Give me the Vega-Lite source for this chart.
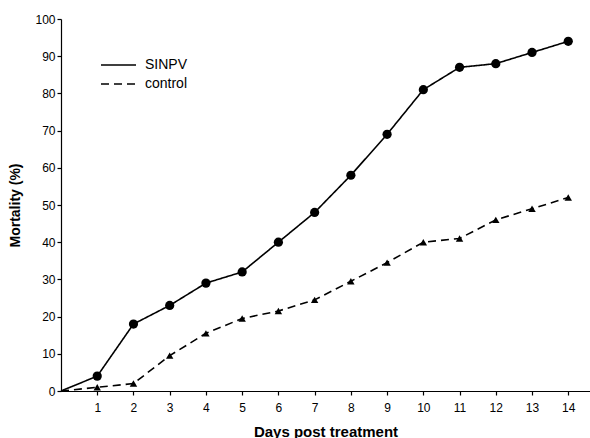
{
  "$schema": "https://vega.github.io/schema/vega-lite/v6.json",
  "width": 529,
  "height": 372,
  "autosize": {"type": "none"},
  "padding": {"left": 61, "top": 19, "right": 0, "bottom": 47},
  "background": "white",
  "config": {
    "view": {"stroke": null},
    "font": "Liberation Sans",
    "axis": {"grid": false, "domainColor": "black", "tickColor": "black", "labelColor": "black", "titleColor": "black", "domainWidth": 1.2, "tickWidth": 1.2}
  },
  "data": {
    "values": [
      {"day": 0, "series": "SINPV", "mortality": 0},
      {"day": 1, "series": "SINPV", "mortality": 4},
      {"day": 2, "series": "SINPV", "mortality": 18},
      {"day": 3, "series": "SINPV", "mortality": 23},
      {"day": 4, "series": "SINPV", "mortality": 29},
      {"day": 5, "series": "SINPV", "mortality": 32},
      {"day": 6, "series": "SINPV", "mortality": 40},
      {"day": 7, "series": "SINPV", "mortality": 48},
      {"day": 8, "series": "SINPV", "mortality": 58},
      {"day": 9, "series": "SINPV", "mortality": 69},
      {"day": 10, "series": "SINPV", "mortality": 81},
      {"day": 11, "series": "SINPV", "mortality": 87},
      {"day": 12, "series": "SINPV", "mortality": 88},
      {"day": 13, "series": "SINPV", "mortality": 91},
      {"day": 14, "series": "SINPV", "mortality": 94},
      {"day": 0, "series": "control", "mortality": 0},
      {"day": 1, "series": "control", "mortality": 1},
      {"day": 2, "series": "control", "mortality": 2},
      {"day": 3, "series": "control", "mortality": 9.5},
      {"day": 4, "series": "control", "mortality": 15.5},
      {"day": 5, "series": "control", "mortality": 19.5},
      {"day": 6, "series": "control", "mortality": 21.5},
      {"day": 7, "series": "control", "mortality": 24.5},
      {"day": 8, "series": "control", "mortality": 29.5},
      {"day": 9, "series": "control", "mortality": 34.5},
      {"day": 10, "series": "control", "mortality": 40},
      {"day": 11, "series": "control", "mortality": 41},
      {"day": 12, "series": "control", "mortality": 46},
      {"day": 13, "series": "control", "mortality": 49},
      {"day": 14, "series": "control", "mortality": 52}
    ]
  },
  "encoding": {
    "x": {
      "field": "day", "type": "quantitative",
      "scale": {"domain": [0, 14.6], "nice": false, "zero": false},
      "axis": {"values": [1,2,3,4,5,6,7,8,9,10,11,12,13,14], "title": "Days post treatment", "titleFontSize": 15, "titleFontWeight": "bold", "labelFontSize": 12, "tickSize": 4, "labelPadding": 7, "titlePadding": 11}
    },
    "y": {
      "field": "mortality", "type": "quantitative",
      "scale": {"domain": [0, 100], "nice": false},
      "axis": {"values": [0,10,20,30,40,50,60,70,80,90,100], "title": "Mortality (%)", "titleFontSize": 14, "titleFontWeight": "bold", "labelFontSize": 12, "tickSize": 4, "labelPadding": 2, "titlePadding": 12}
    }
  },
  "layer": [
    {
      "mark": {"type": "line", "color": "black", "strokeWidth": 1.6},
      "encoding": {
        "detail": {"field": "series"},
        "strokeDash": {
          "field": "series", "type": "nominal",
          "scale": {"domain": ["SINPV", "control"], "range": [[1, 0], [8, 5]]},
          "legend": {"title": null, "orient": "none", "legendX": 50.5, "legendY": 39, "symbolType": "M-3.5,0H3.5", "symbolSize": 100, "symbolStrokeColor": "black", "symbolStrokeWidth": 1.6, "labelFontSize": 14, "labelColor": "black", "labelOffset": 19.5, "rowPadding": 5}
        }
      }
    },
    {
      "transform": [{"filter": "datum.day > 0 && datum.series == 'SINPV'"}],
      "mark": {"type": "point", "shape": "circle", "filled": true, "color": "black", "opacity": 1, "size": 85}
    },
    {
      "transform": [{"filter": "datum.day > 0 && datum.series == 'control'"}],
      "mark": {"type": "point", "shape": "triangle-up", "filled": true, "color": "black", "opacity": 1, "size": 55}
    }
  ]
}
